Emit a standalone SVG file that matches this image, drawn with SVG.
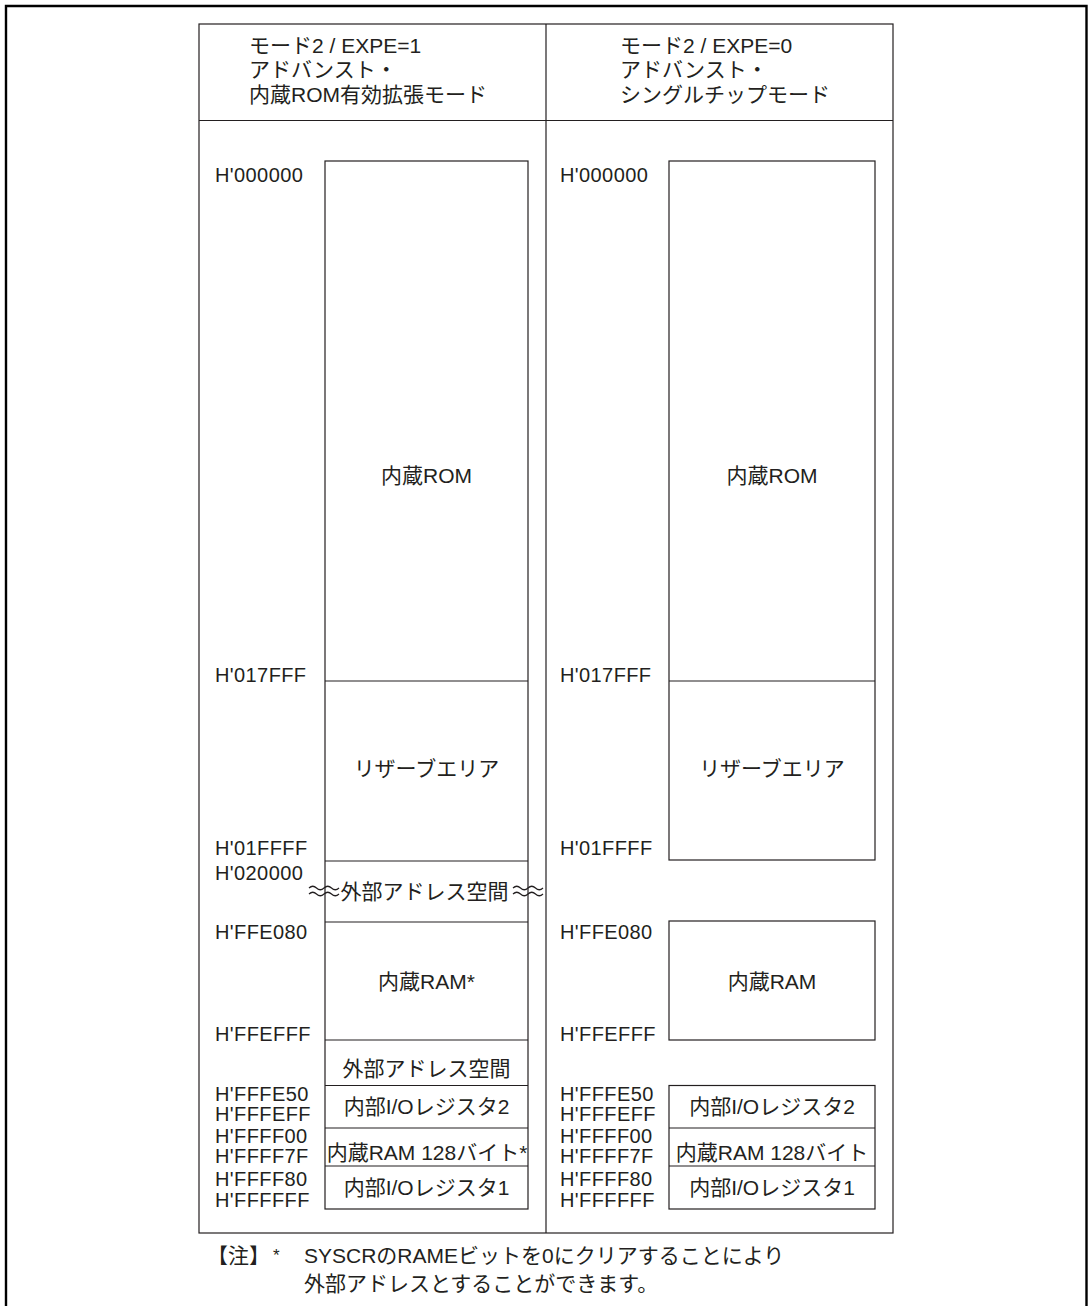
<svg xmlns="http://www.w3.org/2000/svg" width="1088" height="1306" viewBox="0 0 1088 1306">
<style>
.t{font-family:"Liberation Sans","Noto Sans CJK JP",sans-serif;font-size:21px;fill:#231f20}
.a{font-size:20px;letter-spacing:0.4px}
.c{text-anchor:middle}
.ln{fill:none;stroke:#231f20;stroke-width:1.2}
.frame{fill:none;stroke:#000;stroke-width:2.4}
.ast{font-size:17px}
</style>
<rect width="1088" height="1306" fill="#fff"/>
<path class="frame" d="M6,1306 V6 H1086.5 V1306"/>

<g id="table">
  <rect class="ln" x="199" y="24" width="694" height="1209"/>
  <line class="ln" x1="199" y1="120.5" x2="893" y2="120.5"/>
  <line class="ln" x1="546" y1="24" x2="546" y2="1233"/>
</g>

<g id="header-left">
  <text class="t" x="249" y="53">モード2 / EXPE=1</text>
  <text class="t" x="249" y="77">アドバンスト・</text>
  <text class="t" x="249" y="102">内蔵ROM有効拡張モード</text>
</g>
<g id="header-right">
  <text class="t" x="620" y="53">モード2 / EXPE=0</text>
  <text class="t" x="620" y="77">アドバンスト・</text>
  <text class="t" x="620" y="102">シングルチップモード</text>
</g>

<g id="addr-left">
  <text class="t a" x="215" y="182">H'000000</text>
  <text class="t a" x="215" y="682">H'017FFF</text>
  <text class="t a" x="215" y="855">H'01FFFF</text>
  <text class="t a" x="215" y="880">H'020000</text>
  <text class="t a" x="215" y="939">H'FFE080</text>
  <text class="t a" x="215" y="1041">H'FFEFFF</text>
  <text class="t a" x="215" y="1101">H'FFFE50</text>
  <text class="t a" x="215" y="1121">H'FFFEFF</text>
  <text class="t a" x="215" y="1143">H'FFFF00</text>
  <text class="t a" x="215" y="1163">H'FFFF7F</text>
  <text class="t a" x="215" y="1186">H'FFFF80</text>
  <text class="t a" x="215" y="1207">H'FFFFFF</text>
</g>
<g id="addr-right">
  <text class="t a" x="560" y="182">H'000000</text>
  <text class="t a" x="560" y="682">H'017FFF</text>
  <text class="t a" x="560" y="855">H'01FFFF</text>
  <text class="t a" x="560" y="939">H'FFE080</text>
  <text class="t a" x="560" y="1041">H'FFEFFF</text>
  <text class="t a" x="560" y="1101">H'FFFE50</text>
  <text class="t a" x="560" y="1121">H'FFFEFF</text>
  <text class="t a" x="560" y="1143">H'FFFF00</text>
  <text class="t a" x="560" y="1163">H'FFFF7F</text>
  <text class="t a" x="560" y="1186">H'FFFF80</text>
  <text class="t a" x="560" y="1207">H'FFFFFF</text>
</g>

<g id="map-left">
  <rect class="ln" x="325" y="161" width="203" height="1048"/>
  <g id="l-rom"><text class="t c" x="426.5" y="483">内蔵ROM</text></g>
  <line class="ln" x1="325" y1="681" x2="528" y2="681"/>
  <g id="l-reserve"><text class="t c" x="426.5" y="776">リザーブエリア</text></g>
  <line class="ln" x1="325" y1="861" x2="528" y2="861"/>
  <g id="l-ext1"><text class="t c" x="424.5" y="899">外部アドレス空間</text></g>
  <line class="ln" x1="325" y1="922" x2="528" y2="922"/>
  <g id="l-ram"><text class="t c" x="426.5" y="989">内蔵RAM*</text></g>
  <line class="ln" x1="325" y1="1040" x2="528" y2="1040"/>
  <g id="l-ext2"><text class="t c" x="426.5" y="1076">外部アドレス空間</text></g>
  <line class="ln" x1="325" y1="1085.5" x2="528" y2="1085.5"/>
  <g id="l-io2"><text class="t c" x="426.5" y="1114">内部I/Oレジスタ2</text></g>
  <line class="ln" x1="325" y1="1128" x2="528" y2="1128"/>
  <g id="l-ram128"><text class="t c" x="427" y="1160">内蔵RAM 128バイト*</text></g>
  <line class="ln" x1="325" y1="1166" x2="528" y2="1166"/>
  <g id="l-io1"><text class="t c" x="426.5" y="1195">内部I/Oレジスタ1</text></g>
</g>

<g id="connectors">
  <path class="ln" d="M309,888 q3.75,-3.5 7.5,0 t7.5,0 t7.5,0 t7.5,0"/>
  <path class="ln" d="M309,894 q3.75,-3.5 7.5,0 t7.5,0 t7.5,0 t7.5,0"/>
  <path class="ln" d="M513,888 q3.75,-3.5 7.5,0 t7.5,0 t7.5,0 t7.5,0"/>
  <path class="ln" d="M513,894 q3.75,-3.5 7.5,0 t7.5,0 t7.5,0 t7.5,0"/>
</g>

<g id="map-right">
  <g id="r-rom">
    <rect class="ln" x="669" y="161" width="206" height="699"/>
    <text class="t c" x="772" y="483">内蔵ROM</text>
  </g>
  <line class="ln" x1="669" y1="681" x2="875" y2="681"/>
  <g id="r-reserve"><text class="t c" x="772" y="776">リザーブエリア</text></g>
  <g id="r-ram">
    <rect class="ln" x="669" y="921" width="206" height="119"/>
    <text class="t c" x="772" y="989">内蔵RAM</text>
  </g>
  <rect class="ln" x="669" y="1085.5" width="206" height="123.5"/>
  <g id="r-io2"><text class="t c" x="772" y="1114">内部I/Oレジスタ2</text></g>
  <line class="ln" x1="669" y1="1128" x2="875" y2="1128"/>
  <g id="r-ram128"><text class="t c" x="772" y="1160">内蔵RAM 128バイト</text></g>
  <line class="ln" x1="669" y1="1166" x2="875" y2="1166"/>
  <g id="r-io1"><text class="t c" x="772" y="1195">内部I/Oレジスタ1</text></g>
</g>

<g id="note">
  <text class="t" x="207" y="1263">【注】</text>
  <text class="t ast" x="273" y="1261">*</text>
  <text class="t" x="304" y="1263">SYSCRのRAMEビットを0にクリアすることにより</text>
  <text class="t" x="304" y="1291">外部アドレスとすることができます。</text>
</g>
</svg>
